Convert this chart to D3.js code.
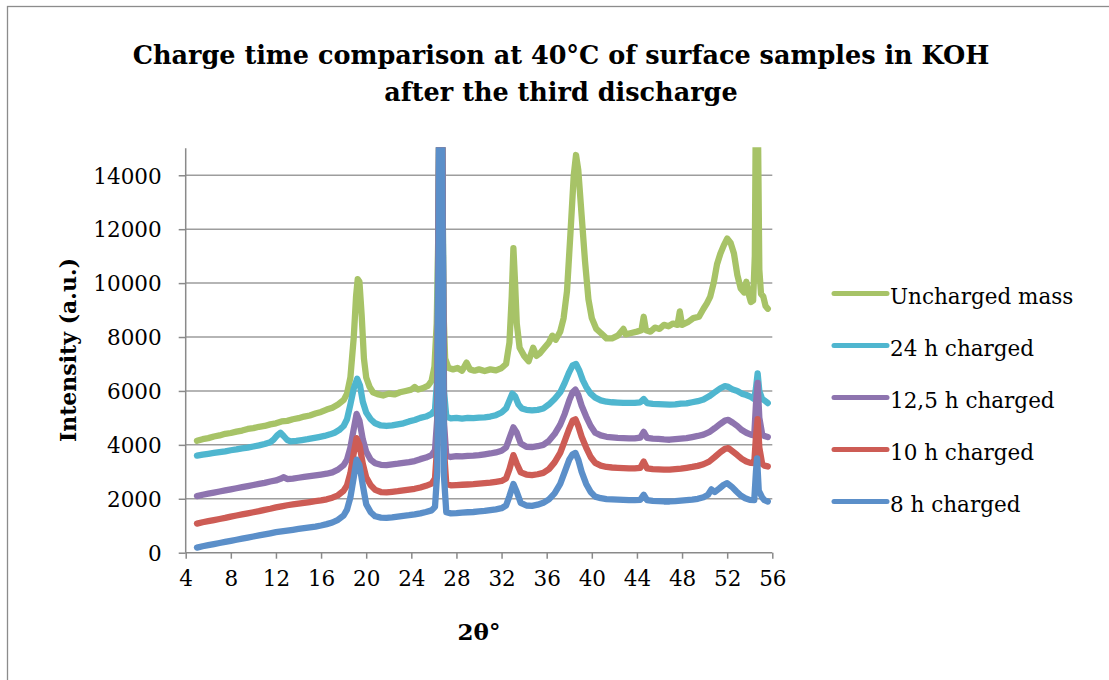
<!DOCTYPE html>
<html>
<head>
<meta charset="utf-8">
<script src="https://cdn.jsdelivr.net/npm/d3@7"></script>
<style>
  html, body { margin: 0; padding: 0; background: #fff; }
  svg { display: block; }
  text { font-family: "DejaVu Serif", "Liberation Serif", serif; fill: #000; }
</style>
</head>
<body>
<svg id="chart" width="1109" height="680"></svg>
<script>
// ---------- data ----------
const titleLines = ["Charge time comparison at 40°C of surface samples in KOH", "after the third discharge"];
const xTitle = "2θ°";
const yTitle = "Intensity (a.u.)";
const xTicks = [4, 8, 12, 16, 20, 24, 28, 32, 36, 40, 44, 48, 52, 56];
const yTicks = [0, 2000, 4000, 6000, 8000, 10000, 12000, 14000];
const seriesNames = ["Uncharged mass", "24 h charged", "12,5 h charged", "10 h charged", "8 h charged"];
const seriesColors = ["#A7C367", "#4FB6CF", "#8E74AF", "#CD5C55", "#5B8FC9"];

const uncharged = [[5,4150],[5.5,4210],[6,4250],[6.5,4310],[7,4350],[7.5,4410],[8,4440],[8.5,4490],[9,4530],[9.5,4590],[10,4620],[10.5,4670],[11,4700],[11.5,4760],[12,4800],[12.5,4870],[13,4890],[13.5,4950],[14,4990],[14.5,5050],[15,5090],[15.5,5160],[16,5220],[16.5,5310],[17,5380],[17.5,5500],[18,5660],[18.3,5900],[18.6,6500],[18.9,8000],[19.1,9500],[19.25,10150],[19.4,10050],[19.6,8800],[19.8,7200],[20,6500],[20.3,6150],[20.6,5950],[21,5880],[21.5,5830],[22,5900],[22.5,5870],[23,5950],[23.5,6000],[24,6050],[24.3,6150],[24.6,6050],[25,6100],[25.5,6200],[25.8,6380],[26.05,6900],[26.25,8500],[26.4,12000],[26.5,18000],[26.7,18000],[26.85,9000],[27,7200],[27.3,6850],[27.7,6800],[28.1,6850],[28.5,6750],[28.9,7050],[29.2,6800],[29.6,6750],[30,6800],[30.5,6740],[31,6800],[31.5,6760],[32,6850],[32.4,7000],[32.7,7800],[32.9,9500],[33.05,11300],[33.2,10000],[33.35,8500],[33.6,7600],[34,7300],[34.4,7100],[34.8,7600],[35.1,7300],[35.4,7400],[35.8,7600],[36.2,7800],[36.5,8050],[36.8,7900],[37.2,8200],[37.5,8700],[37.8,9700],[38.1,11800],[38.4,14000],[38.6,14750],[38.8,14200],[39.1,12500],[39.4,10800],[39.7,9400],[40,8700],[40.4,8300],[40.8,8150],[41.3,7950],[41.8,7950],[42.3,8050],[42.8,8300],[43,8100],[43.5,8150],[44,8200],[44.4,8250],[44.6,8750],[44.8,8250],[45.2,8200],[45.6,8350],[46,8300],[46.4,8450],[46.8,8400],[47.2,8500],[47.6,8450],[47.8,8950],[48,8450],[48.5,8550],[49,8700],[49.5,8750],[49.9,9050],[50.2,9250],[50.5,9500],[50.8,10000],[51.1,10700],[51.4,11100],[51.7,11400],[52,11650],[52.3,11500],[52.6,11100],[52.9,10300],[53.2,9800],[53.5,9650],[53.7,10050],[53.9,9600],[54.1,9300],[54.3,9350],[54.45,11000],[54.55,17000],[54.7,17000],[54.85,10500],[55,9600],[55.2,9500],[55.4,9150],[55.6,9050]];

const charged24 = [[5,3600],[5.5,3640],[6,3670],[6.5,3700],[7,3730],[7.5,3760],[8,3800],[8.5,3830],[9,3870],[9.5,3900],[10,3940],[10.5,3980],[11,4030],[11.5,4100],[11.8,4200],[12.1,4350],[12.4,4450],[12.7,4320],[13,4180],[13.3,4130],[13.8,4150],[14.3,4180],[14.8,4210],[15.3,4250],[15.8,4290],[16.3,4330],[16.8,4390],[17.2,4450],[17.6,4550],[18,4700],[18.3,4950],[18.6,5500],[18.9,6100],[19.2,6450],[19.45,6200],[19.7,5600],[20,5200],[20.4,4950],[20.8,4800],[21.3,4720],[21.8,4700],[22.3,4720],[22.8,4760],[23.3,4800],[23.8,4870],[24.3,4920],[24.8,5000],[25.3,5050],[25.8,5150],[26.1,5300],[26.3,6500],[26.5,18000],[26.7,18000],[26.9,6000],[27.1,5050],[27.5,4980],[28,5000],[28.5,4970],[29,5000],[29.5,4990],[30,5010],[30.5,5020],[31,5050],[31.5,5100],[32,5200],[32.4,5350],[32.7,5650],[32.95,5900],[33.2,5800],[33.5,5500],[33.8,5350],[34.2,5300],[34.7,5280],[35.2,5300],[35.7,5350],[36.2,5500],[36.7,5700],[37.2,5950],[37.6,6300],[38,6700],[38.3,6950],[38.6,7000],[38.9,6750],[39.2,6400],[39.5,6150],[39.9,5900],[40.3,5750],[40.8,5650],[41.3,5600],[41.8,5580],[42.3,5570],[42.8,5560],[43.3,5560],[43.8,5560],[44.3,5580],[44.6,5700],[44.9,5550],[45.4,5520],[45.9,5510],[46.4,5500],[46.9,5490],[47.4,5500],[47.9,5530],[48.4,5540],[48.9,5580],[49.4,5620],[49.9,5680],[50.4,5800],[50.9,5950],[51.4,6100],[51.8,6180],[52.1,6150],[52.5,6050],[52.9,6000],[53.3,5900],[53.7,5850],[54.1,5780],[54.4,5700],[54.55,6100],[54.7,6650],[54.85,6000],[55.1,5700],[55.3,5650],[55.6,5550]];

const charged125 = [[5,2100],[5.5,2150],[6,2190],[6.5,2230],[7,2270],[7.5,2310],[8,2350],[8.5,2390],[9,2430],[9.5,2470],[10,2510],[10.5,2550],[11,2590],[11.5,2640],[12,2680],[12.4,2740],[12.7,2800],[13,2730],[13.5,2750],[14,2780],[14.5,2810],[15,2840],[15.5,2870],[16,2900],[16.5,2930],[17,2980],[17.5,3080],[18,3250],[18.3,3450],[18.6,3900],[18.9,4600],[19.15,5150],[19.4,4900],[19.7,4200],[20,3750],[20.4,3450],[20.8,3320],[21.3,3260],[21.8,3250],[22.3,3280],[22.8,3300],[23.3,3330],[23.8,3360],[24.3,3400],[24.8,3470],[25.3,3530],[25.8,3620],[26.1,3800],[26.3,5000],[26.5,18000],[26.7,18000],[26.9,4800],[27.1,3600],[27.5,3550],[28,3580],[28.5,3570],[29,3590],[29.5,3600],[30,3620],[30.5,3650],[31,3680],[31.5,3720],[32,3780],[32.4,3900],[32.7,4250],[33.05,4650],[33.35,4450],[33.7,4050],[34.2,3930],[34.7,3920],[35.2,3950],[35.7,4000],[36.2,4150],[36.7,4400],[37.2,4750],[37.6,5150],[38,5650],[38.3,5950],[38.55,6050],[38.8,5850],[39.1,5450],[39.5,5050],[39.9,4700],[40.3,4450],[40.8,4350],[41.3,4300],[41.8,4280],[42.3,4260],[42.8,4250],[43.3,4240],[43.8,4240],[44.3,4270],[44.6,4480],[44.9,4260],[45.4,4230],[45.9,4220],[46.4,4200],[46.9,4190],[47.4,4210],[47.9,4230],[48.4,4250],[48.9,4290],[49.4,4330],[49.9,4380],[50.4,4470],[50.9,4620],[51.4,4780],[51.8,4900],[52.1,4930],[52.5,4820],[52.9,4700],[53.3,4550],[53.7,4450],[54.1,4380],[54.4,4350],[54.55,5500],[54.7,6300],[54.85,5000],[55.1,4400],[55.3,4330],[55.6,4290]];

const charged10 = [[5,1080],[5.5,1130],[6,1170],[6.5,1210],[7,1250],[7.5,1290],[8,1340],[8.5,1380],[9,1420],[9.5,1460],[10,1500],[10.5,1540],[11,1590],[11.5,1630],[12,1680],[12.5,1720],[13,1760],[13.5,1790],[14,1820],[14.5,1850],[15,1880],[15.5,1910],[16,1940],[16.5,1980],[17,2040],[17.5,2130],[18,2300],[18.3,2500],[18.6,2950],[18.9,3700],[19.15,4250],[19.4,4000],[19.7,3300],[20,2800],[20.4,2500],[20.8,2330],[21.3,2250],[21.8,2240],[22.3,2260],[22.8,2280],[23.3,2310],[23.8,2340],[24.3,2370],[24.8,2420],[25.3,2480],[25.8,2560],[26.1,2750],[26.3,4000],[26.5,18000],[26.7,18000],[26.9,3800],[27.1,2550],[27.5,2500],[28,2510],[28.5,2520],[29,2530],[29.5,2540],[30,2560],[30.5,2580],[31,2600],[31.5,2630],[32,2660],[32.4,2750],[32.7,3100],[33.05,3620],[33.35,3300],[33.7,2980],[34.2,2900],[34.7,2880],[35.2,2910],[35.7,2960],[36.2,3100],[36.7,3350],[37.2,3700],[37.6,4150],[38,4600],[38.3,4900],[38.55,4950],[38.8,4700],[39.1,4300],[39.5,3900],[39.9,3550],[40.3,3330],[40.8,3230],[41.3,3180],[41.8,3160],[42.3,3150],[42.8,3140],[43.3,3130],[43.8,3130],[44.3,3150],[44.6,3380],[44.9,3130],[45.4,3100],[45.9,3090],[46.4,3080],[46.9,3080],[47.4,3100],[47.9,3120],[48.4,3150],[48.9,3180],[49.4,3220],[49.9,3280],[50.4,3380],[50.9,3550],[51.4,3730],[51.8,3850],[52.1,3880],[52.5,3750],[52.9,3620],[53.3,3480],[53.7,3380],[54.1,3330],[54.4,3320],[54.55,4300],[54.7,4950],[54.85,3900],[55.1,3300],[55.3,3230],[55.6,3200]];

const charged8 = [[5,190],[5.5,240],[6,280],[6.5,320],[7,360],[7.5,400],[8,440],[8.5,480],[9,520],[9.5,560],[10,600],[10.5,640],[11,680],[11.5,720],[12,760],[12.5,790],[13,820],[13.5,850],[14,880],[14.5,910],[15,940],[15.5,970],[16,1010],[16.5,1060],[17,1120],[17.5,1220],[18,1380],[18.3,1600],[18.6,2050],[18.9,2800],[19.15,3450],[19.4,3250],[19.7,2500],[20,1800],[20.4,1500],[20.8,1350],[21.3,1300],[21.8,1290],[22.3,1310],[22.8,1340],[23.3,1370],[23.8,1390],[24.3,1420],[24.8,1460],[25.3,1510],[25.8,1570],[26.1,1700],[26.3,3000],[26.5,18000],[26.7,18000],[26.9,2800],[27.1,1500],[27.5,1460],[28,1470],[28.5,1490],[29,1500],[29.5,1510],[30,1530],[30.5,1550],[31,1580],[31.5,1610],[32,1650],[32.4,1750],[32.7,2100],[33.05,2550],[33.35,2250],[33.7,1850],[34.2,1750],[34.7,1740],[35.2,1780],[35.7,1850],[36.2,1980],[36.7,2200],[37.2,2550],[37.6,3000],[38,3450],[38.3,3650],[38.55,3700],[38.8,3450],[39.1,3000],[39.5,2550],[39.9,2250],[40.3,2080],[40.8,2020],[41.3,1990],[41.8,1980],[42.3,1970],[42.8,1960],[43.3,1950],[43.8,1950],[44.3,1960],[44.6,2150],[44.9,1950],[45.4,1920],[45.9,1910],[46.4,1900],[46.9,1900],[47.4,1910],[47.9,1930],[48.4,1950],[48.9,1970],[49.4,2000],[49.9,2060],[50.3,2150],[50.6,2350],[50.9,2250],[51.3,2380],[51.7,2520],[52,2580],[52.4,2450],[52.8,2280],[53.2,2120],[53.6,2020],[54,1960],[54.4,1950],[54.55,3000],[54.65,3500],[54.8,2300],[55.1,2050],[55.3,1950],[55.6,1900]];

const seriesData = [uncharged, charged24, charged125, charged10, charged8];

// ---------- layout ----------
const svg = d3.select("#chart");
const plot = { left: 185.7, right: 772.3, top: 148.3, bottom: 552.7 };

const x = d3.scaleLinear().domain([4, 56]).range([plot.left, plot.right]);
const y = d3.scaleLinear().domain([0, 15000]).range([plot.bottom, plot.top]);

// outer frame
svg.append("rect").attr("x", 7.5).attr("y", 6.5).attr("width", 1300).attr("height", 900)
  .attr("fill", "none").attr("stroke", "#8c8c8c").attr("stroke-width", 1.3);

// title
svg.append("g").selectAll("text").data(titleLines).join("text")
  .attr("x", 561).attr("y", (d, i) => 64 + i * 36.5)
  .attr("text-anchor", "middle").attr("font-weight", "bold").attr("font-size", 25.5)
  .text(d => d);

// gridlines
svg.append("g").selectAll("line").data(yTicks.filter(d => d > 0)).join("line")
  .attr("x1", plot.left).attr("x2", plot.right)
  .attr("y1", d => y(d)).attr("y2", d => y(d))
  .attr("stroke", "#9d9d9d").attr("stroke-width", 1.5);

// y axis
const yAxis = d3.axisLeft(y).tickValues(yTicks).tickSize(7).tickPadding(17).tickFormat(d3.format("d"));
const gy = svg.append("g").attr("transform", `translate(${plot.left},0)`).call(yAxis);
gy.select(".domain").remove();
gy.append("line").attr("x1", 0).attr("x2", 0).attr("y1", plot.top).attr("y2", plot.bottom)
  .attr("stroke", "#8a8a8a").attr("stroke-width", 1.5);
gy.selectAll(".tick line").attr("stroke", "#8a8a8a").attr("stroke-width", 1.5);
gy.selectAll(".tick text").attr("font-family", "DejaVu Serif").attr("font-size", 21.5).attr("fill", "#000").attr("dy", "0.36em");

// x axis
const xAxis = d3.axisBottom(x).tickValues(xTicks).tickSize(6).tickPadding(12).tickFormat(d3.format("d"));
const gx = svg.append("g").attr("transform", `translate(0,${plot.bottom})`).call(xAxis);
gx.select(".domain").remove();
gx.append("line").attr("x1", plot.left).attr("x2", plot.right).attr("y1", 0).attr("y2", 0)
  .attr("stroke", "#8a8a8a").attr("stroke-width", 1.5);
gx.selectAll(".tick line").attr("stroke", "#8a8a8a").attr("stroke-width", 1.5);
gx.selectAll(".tick text").attr("font-family", "DejaVu Serif").attr("font-size", 21.5).attr("fill", "#000");

// axis titles
svg.append("text").attr("x", 479).attr("y", 640).attr("text-anchor", "middle")
  .attr("font-weight", "bold").attr("font-size", 23).text(xTitle);
svg.append("text").attr("transform", "translate(76,350) rotate(-90)").attr("text-anchor", "middle")
  .attr("font-weight", "bold").attr("font-size", 22).text(yTitle);

// clip
svg.append("clipPath").attr("id", "plotclip").append("rect")
  .attr("x", plot.left).attr("y", plot.top - 1).attr("width", plot.right - plot.left + 4).attr("height", plot.bottom - plot.top + 1);

const line = d3.line().x(d => x(d[0])).y(d => y(d[1]));
svg.append("g").attr("clip-path", "url(#plotclip)")
  .selectAll("path").data(seriesData).join("path")
  .attr("d", line)
  .attr("fill", "none")
  .attr("stroke", (d, i) => seriesColors[i])
  .attr("stroke-width", 6.3)
  .attr("stroke-linejoin", "round")
  .attr("stroke-linecap", "round");

// legend
const lg = svg.append("g");
const items = lg.selectAll("g").data(seriesNames).join("g")
  .attr("transform", (d, i) => `translate(0,${293.5 + i * 52})`);
items.append("line").attr("x1", 834).attr("x2", 887).attr("y1", 0).attr("y2", 0)
  .attr("stroke", (d, i) => seriesColors[i]).attr("stroke-width", 5).attr("stroke-linecap", "round");
items.append("text").attr("x", 890).attr("y", 10.5).attr("font-size", 21.5).text(d => d);
</script>
</body>
</html>
